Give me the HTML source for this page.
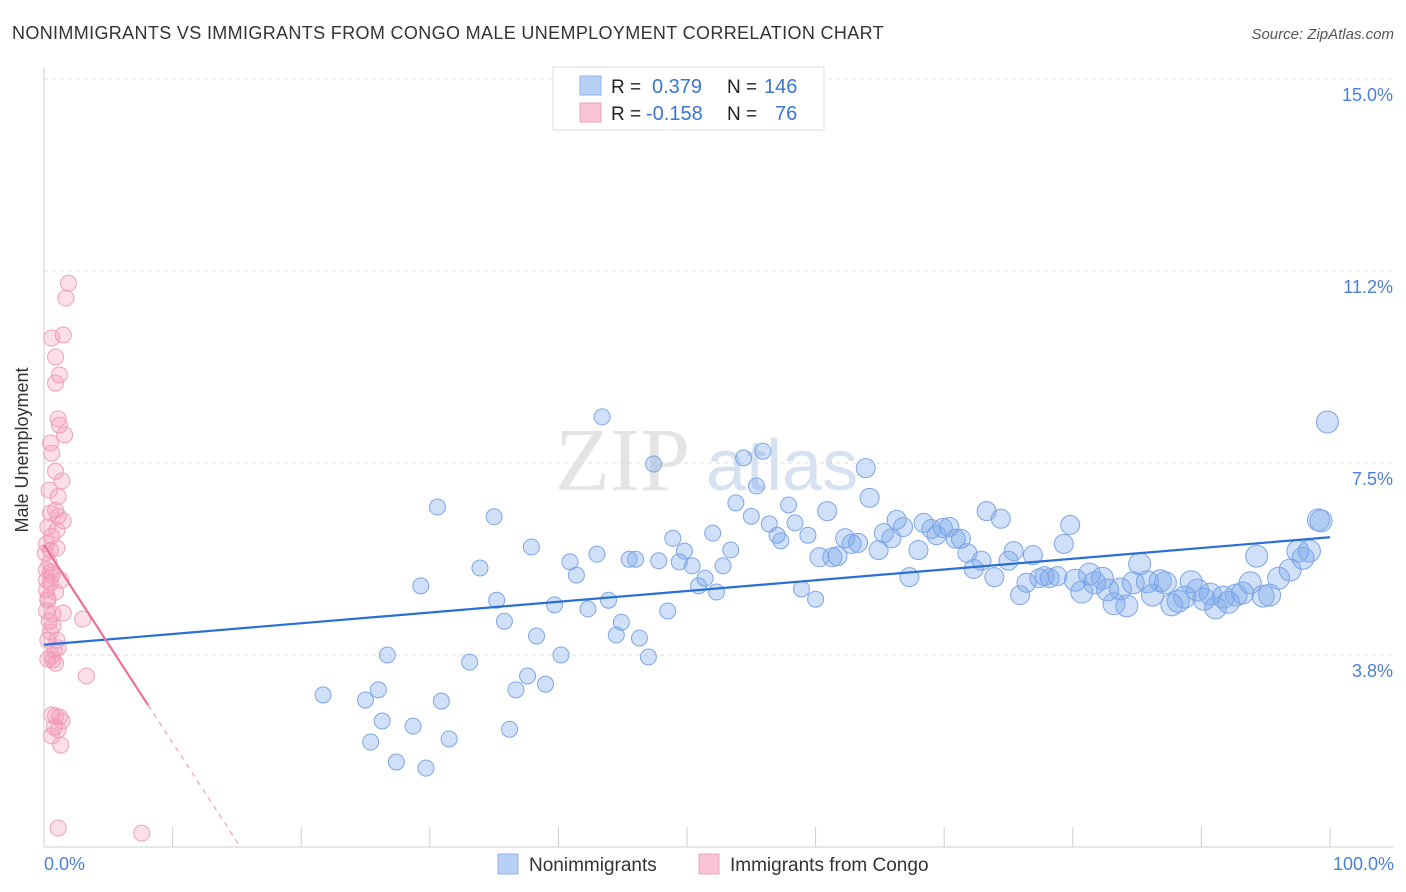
<!DOCTYPE html>
<html><head><meta charset="utf-8">
<style>
body{margin:0;background:#fff;font-family:"Liberation Sans",sans-serif;}
svg{display:block}
</style></head>
<body>
<svg id="chart" width="1406" height="892">
<text x="12" y="39" font-size="18" letter-spacing="0.35" fill="#333">NONIMMIGRANTS VS IMMIGRANTS FROM CONGO MALE UNEMPLOYMENT CORRELATION CHART</text>
<text x="1394" y="39" font-size="15" fill="#555" font-style="italic" text-anchor="end">Source: ZipAtlas.com</text>
<text x="690" y="490" font-size="90" fill="#e4e4e4" text-anchor="end" font-family="Liberation Serif,serif">ZIP</text>
<text x="706" y="490" font-size="72" fill="#d6e2f2">atlas</text>
<g id="grid"></g>
<g id="pts"></g>
<g id="lines"></g>
<text x="34" y="456" font-size="18" fill="#333" text-anchor="middle" transform="rotate(-90 28 456)">Male Unemployment</text>
<text x="44" y="870" font-size="18" fill="#4a7fd6">0.0%</text>
<text x="1394" y="870" font-size="18" fill="#4a7fd6" text-anchor="end">100.0%</text>
<g>
<rect x="553" y="67" width="271" height="63" fill="#fff" stroke="#ddd"/>
<rect x="580" y="76" width="21" height="19" fill="#b8d0f4" stroke="#8fb2ea"/>
<rect x="580" y="103" width="21" height="19" fill="#f9c4d4" stroke="#f0a0bb"/>
<text x="611" y="93" font-size="19" fill="#222">R =</text><text x="652" y="93" font-size="20" fill="#3a75d4">0.379</text>
<text x="727" y="93" font-size="19" fill="#222">N =</text><text x="764" y="93" font-size="20" fill="#3a75d4">146</text>
<text x="611" y="120" font-size="19" fill="#222">R =</text><text x="646" y="120" font-size="20" fill="#3a75d4">-0.158</text>
<text x="727" y="120" font-size="19" fill="#222">N =</text><text x="775" y="120" font-size="20" fill="#3a75d4">76</text>
</g>
<g><rect x="498" y="854" width="20" height="20" fill="#b8d0f4" stroke="#8fb2ea"/><text x="529" y="871" font-size="19" fill="#333">Nonimmigrants</text></g>
<g><rect x="699" y="854" width="20" height="20" fill="#f9c4d4" stroke="#f0a0bb"/><text x="730" y="871" font-size="19" fill="#333">Immigrants from Congo</text></g>
</svg>
<script>
const yTicks=[3.75,7.5,11.25,15];
const yTickLabels=["3.8%","7.5%","11.2%","15.0%"];
const blueX=[43.4,47.4,30.6,35.0,37.9,29.3,33.9,35.2,35.8,38.3,40.9,41.4,43.0,39.7,42.3,43.9,44.5,44.9,46.3,47.0,40.2,39.0,37.6,36.7,36.2,33.1,30.9,31.5,28.7,29.7,27.4,26.7,26.3,26.0,25.4,25.0,21.7,45.5,46.0,47.8,48.5,48.9,49.4,49.8,50.4,50.9,51.4,52.0,52.3,52.8,53.4,53.8,54.4,55.0,55.4,55.9,56.4,57.0,57.3,57.9,58.4,58.9,59.4,60.0,60.3,60.9,61.3,61.7,62.3,62.8,63.3,63.9,64.2,64.9,65.3,65.9,66.3,66.8,67.3,68.0,68.4,69.0,69.4,69.9,70.4,70.9,71.3,71.8,72.3,72.9,73.3,73.9,74.4,75.0,75.4,75.9,76.4,76.9,77.4,77.8,78.2,78.8,79.3,79.8,80.2,80.7,81.3,81.7,82.3,82.7,83.2,83.7,84.2,84.7,85.2,85.8,86.2,86.8,87.2,87.7,88.2,88.7,89.2,89.7,90.2,90.7,91.1,91.7,92.1,92.7,93.2,93.8,94.3,94.8,95.3,96.0,96.9,97.5,97.9,98.4,99.1,99.3,99.8];
const blueY=[8.40,7.48,6.64,6.45,5.86,5.10,5.45,4.82,4.41,4.12,5.57,5.31,5.72,4.73,4.65,4.82,4.14,4.39,4.08,3.71,3.75,3.18,3.34,3.07,2.30,3.61,2.85,2.11,2.36,1.54,1.66,3.75,2.46,3.07,2.05,2.87,2.97,5.62,5.62,5.59,4.61,6.03,5.57,5.78,5.49,5.10,5.25,6.13,4.98,5.49,5.80,6.72,7.60,6.46,7.05,7.73,6.31,6.09,5.98,6.68,6.33,5.04,6.09,4.84,5.66,6.56,5.66,5.68,6.03,5.92,5.94,7.40,6.82,5.80,6.13,6.03,6.39,6.25,5.27,5.80,6.33,6.21,6.09,6.23,6.25,6.02,6.02,5.74,5.43,5.59,6.56,5.27,6.41,5.59,5.78,4.92,5.16,5.70,5.25,5.29,5.25,5.29,5.92,6.29,5.21,4.98,5.33,5.16,5.25,5.02,4.75,5.04,4.71,5.16,5.53,5.18,4.92,5.20,5.16,4.73,4.80,4.88,5.18,5.02,4.84,4.94,4.67,4.88,4.78,4.92,4.96,5.16,5.68,4.90,4.92,5.25,5.41,5.78,5.64,5.78,6.39,6.37,8.30];
const pinkX=[1.9,1.7,1.5,0.6,0.9,1.2,0.9,1.1,1.2,1.6,0.5,0.6,0.9,1.4,0.4,1.1,0.9,0.5,1.1,1.5,0.3,1.0,0.6,0.2,0.5,1.0,0.1,0.4,0.6,1.3,0.2,0.5,0.2,0.9,0.3,1.5,0.2,0.7,3.0,0.4,0.7,0.5,0.3,1.0,0.8,1.1,0.6,0.3,0.9,3.3,0.6,0.9,1.4,0.8,1.1,0.6,1.3,1.1,7.6,0.3,0.5,0.2,0.7,1.2];
const pinkY=[11.01,10.72,10.0,9.94,9.57,9.22,9.06,8.36,8.24,8.05,7.89,7.69,7.34,7.15,6.97,6.84,6.58,6.52,6.46,6.37,6.25,6.19,6.07,5.92,5.80,5.84,5.74,5.55,5.31,5.21,5.21,5.16,5.02,4.98,4.86,4.57,4.61,4.55,4.45,4.41,4.32,4.20,4.04,4.04,3.85,3.89,3.73,3.67,3.59,3.34,2.58,2.56,2.46,2.34,2.29,2.17,1.99,0.37,0.27,4.82,5.37,5.41,3.65,2.54];
const blueTrend=[3.95,6.05];
const pinkTrendStart=5.9, pinkSlope=(2.77-5.9)/8.1;

const X=v=>44+v*12.86, Y=v=>847-v*51.2;
const NS="http://www.w3.org/2000/svg";
function mk(tag,attrs,parent){const e=document.createElementNS(NS,tag);for(const k in attrs)e.setAttribute(k,attrs[k]);parent.appendChild(e);return e;}
const grid=document.getElementById('grid');
yTicks.forEach((t,i)=>{
  const l=mk('line',{x1:44,x2:1393,y1:Y(t),y2:Y(t),stroke:'#ddd','stroke-dasharray':'4,4'},grid);
  
  
  const tx=mk('text',{x:1393,y:Y(t)+22,'font-size':18,fill:'#4a7fd6','text-anchor':'end'},grid);
  tx.textContent=yTickLabels[i];
  
  
});
const ax=mk('line',{x1:44,x2:44,y1:68,y2:847,stroke:'#ccc'},grid);


const xa=mk('line',{x1:44,x2:1393,y1:847,y2:847,stroke:'#ccc'},grid);


for(let i=0;i<=10;i++){
  const t=mk('line',{x1:X(i*10),x2:X(i*10),y1:827,y2:847,stroke:'#ccc'},grid);
  
  
}
const pts=document.getElementById('pts');
pinkX.forEach((v,i)=>{
  const c=mk('circle',{cx:X(v),cy:Y(pinkY[i]),r:8,fill:'rgba(244,150,180,0.3)',stroke:'#f0a0bb','stroke-width':1},pts);
  
  
});
blueX.forEach((v,i)=>{
  const r=v>80?11:(v>60?9.5:8);
  const c=mk('circle',{cx:X(v),cy:Y(blueY[i]),r:r,fill:'rgba(120,165,235,0.35)',stroke:'#7ea6e6','stroke-width':1},pts);
  
  
});
const lines=document.getElementById('lines');
const bl=mk('line',{x1:X(0),y1:Y(blueTrend[0]),x2:X(100),y2:Y(blueTrend[1]),stroke:'#2a6fd6','stroke-width':2.2},lines);


const pl=mk('line',{x1:X(0),y1:Y(pinkTrendStart),x2:X(8.1),y2:Y(pinkTrendStart+pinkSlope*8.1),stroke:'#e8709a','stroke-width':2.2},lines);


const pd=mk('line',{x1:X(8.1),y1:Y(pinkTrendStart+pinkSlope*8.1),x2:X(15.3),y2:Y(pinkTrendStart+pinkSlope*15.3),stroke:'#f0a0bb','stroke-width':1.2,'stroke-dasharray':'5,5'},lines);


</script>
</body></html>
